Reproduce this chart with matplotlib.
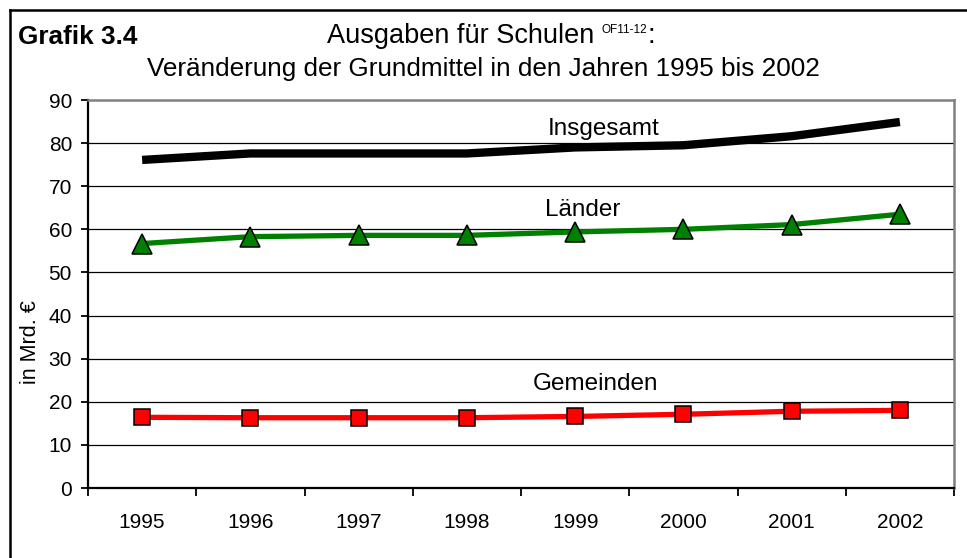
import numpy as np
import matplotlib
matplotlib.use('Agg')
import matplotlib.pyplot as plt
from matplotlib.lines import Line2D

plt.rcParams['font.family'] = ['Liberation Sans', 'DejaVu Sans']

years = ['1995', '1996', '1997', '1998', '1999', '2000', '2001', '2002']
insgesamt = [76.1, 77.6, 77.6, 77.6, 79.0, 79.5, 81.6, 84.9]
laender = [56.7, 58.3, 58.6, 58.6, 59.4, 60.0, 61.1, 63.5]
gemeinden = [16.4, 16.3, 16.3, 16.3, 16.6, 17.1, 17.8, 18.0]

W, H = 967, 558
fig = plt.figure(figsize=(W / 100, H / 100), dpi=100)
ax = fig.add_axes([88 / W, 1 - 488 / H, (954 - 88) / W, (488 - 100) / H])

x = np.arange(len(years))

# gridlines (black), top one is covered by the grey frame
for v in range(10, 90, 10):
    ax.axhline(v, color='black', lw=0.9, zorder=1)

ax.plot(x, insgesamt, color='black', lw=6, solid_capstyle='butt', zorder=3)
ax.plot(x, laender, color='#008000', lw=3.8, marker='^', markersize=14,
        markerfacecolor='#008000', markeredgecolor='black', markeredgewidth=1.1,
        solid_capstyle='butt', zorder=3)
ax.plot(x, gemeinden, color='#ff0000', lw=3.8, marker='s', markersize=12,
        markerfacecolor='#ff0000', markeredgecolor='black', markeredgewidth=1.1,
        solid_capstyle='butt', zorder=3)

ax.text(3.75, 83.3, 'Insgesamt', fontsize=17.5, va='center', ha='left')
ax.text(3.72, 64.6, 'Länder', fontsize=17.5, va='center', ha='left')
ax.text(3.61, 24.2, 'Gemeinden', fontsize=17.5, va='center', ha='left')

ax.set_xlim(-0.5, len(years) - 0.5)
ax.set_ylim(0, 90)
ax.set_yticks(range(0, 91, 10))
ax.tick_params(axis='y', direction='out', length=5, width=1.3, pad=6.5,
               labelsize=15)
ax.set_xticks(x)
ax.set_xticklabels(years)
ax.set_xticks(np.arange(-0.5, len(years)), minor=True)
ax.tick_params(axis='x', which='major', length=0, pad=18, labelsize=15)
ax.tick_params(axis='x', which='minor', direction='out', length=5.5, width=1.3)

for s in ['left', 'bottom']:
    ax.spines[s].set_color('black')
    ax.spines[s].set_linewidth(1.6)
for s in ['top', 'right']:
    ax.spines[s].set_color('#808080')
    ax.spines[s].set_linewidth(1.8)

fig.text(30 / W, 1 - 342 / H, 'in Mrd. €', rotation=90, fontsize=15.5,
         ha='center', va='center')

# titles
fig.text(18 / W, 1 - 37 / H, 'Grafik 3.4', fontsize=18.8, fontweight='bold',
         ha='left', va='center')
fig.text(594 / W, 1 - 36 / H, 'Ausgaben für Schulen', fontsize=19.5,
         ha='right', va='center')
fig.text(601 / W, 1 - 30 / H, 'OF11-12', fontsize=8.5, ha='left', va='center')
fig.text(648 / W, 1 - 36 / H, ':', fontsize=19.5, ha='left', va='center')
fig.text(483 / W, 1 - 69 / H,
         'Veränderung der Grundmittel in den Jahren 1995 bis 2002',
         fontsize=18.8, ha='center', va='center')

# outer frame (top and left edges)
fig.add_artist(Line2D([10 / W, 1], [1 - 10 / H, 1 - 10 / H], color='black',
                      lw=1.8, transform=fig.transFigure))
fig.add_artist(Line2D([10 / W, 10 / W], [1 - 10 / H, 0], color='black',
                      lw=1.8, transform=fig.transFigure))

fig.savefig('out.png', dpi=100)
